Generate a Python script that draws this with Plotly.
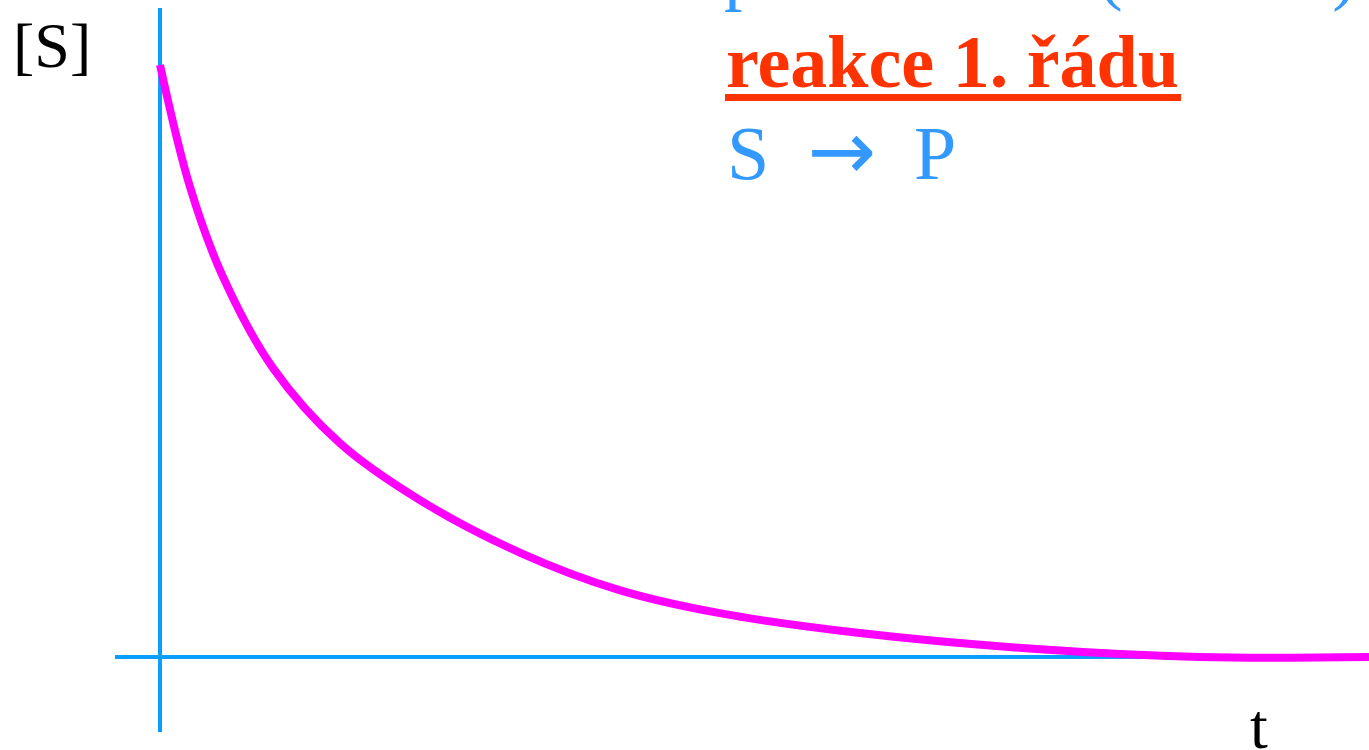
import plotly.graph_objects as go

# first order reaction S -> P, concentration of S
t = [0.0, 0.248, 0.521, 0.935, 1.489, 2.15, 2.98, 3.80, 4.63, 5.77, 7.25, 8.60, 10.0]
s_conc = [1.0, 0.794, 0.642, 0.488, 0.361, 0.265, 0.176, 0.113, 0.074, 0.041,
          0.0135, 0.0, 0.0]

y_label = '[S]'
x_label = 't'
top_line = 'průběh času (obecně)'
title = 'reakce 1. řádu'
reaction = ['S', '→', 'P']

serif = 'Liberation Serif, Times New Roman, serif'
axis_blue = '#0A9EFF'
text_blue = '#3399FF'
red = '#FF3300'

fig = go.Figure()

fig.add_trace(go.Scatter(
    x=t, y=s_conc,
    mode='lines',
    line=dict(color='#FF00FF', width=8, shape='spline', smoothing=1.0),
    showlegend=False,
    hoverinfo='skip',
))

# axes drawn as plain lines, like in the slide
fig.add_shape(type='line', xref='x', yref='y', x0=0, x1=0, y0=-0.1267, y1=1.0963,
              line=dict(color=axis_blue, width=4), layer='below')
fig.add_shape(type='line', xref='x', yref='y', x0=-0.372, x1=10.2, y0=0, y1=0,
              line=dict(color=axis_blue, width=4), layer='below')

# thick underline below the title
fig.add_shape(type='rect', xref='paper', yref='paper',
              x0=0.5296, x1=0.8627, y0=0.8653, y1=0.8747,
              line=dict(width=0), fillcolor=red)

fig.add_annotation(text=y_label, xref='paper', yref='paper', x=0.038, y=0.94,
                   xanchor='center', yanchor='middle', showarrow=False,
                   font=dict(family=serif, size=64, color='black'))
fig.add_annotation(text=x_label, xref='paper', yref='paper', x=0.9197, y=0.032,
                   xanchor='center', yanchor='middle', showarrow=False,
                   font=dict(family=serif, size=64, color='black'))
fig.add_annotation(text=top_line, xref='paper', yref='paper', x=0.5274, y=1.0387,
                   xanchor='left', yanchor='middle', showarrow=False,
                   font=dict(family=serif, size=74, color=text_blue))
fig.add_annotation(text='<b>' + title + '</b>', xref='paper', yref='paper',
                   x=0.5289, y=0.9173, xanchor='left', yanchor='middle',
                   showarrow=False, font=dict(family=serif, size=74, color=red))

arrow = '<span style="font-family:DejaVu Sans;font-size:82px">' + reaction[1] + '</span>'
fig.add_annotation(text=reaction[0] + '\u00a0\u00a0' + arrow + '\u00a0\u00a0' + reaction[2],
                   xref='paper', yref='paper', x=0.5296, y=0.7987,
                   xanchor='left', yanchor='middle', showarrow=False,
                   font=dict(family=serif, size=76, color=text_blue))

fig.update_layout(
    width=1369, height=750,
    margin=dict(l=0, r=0, t=0, b=0),
    paper_bgcolor='white',
    plot_bgcolor='white',
    xaxis=dict(range=[-1.3234, 10], visible=False, fixedrange=True),
    yaxis=dict(range=[-0.1571, 1.1098], visible=False, fixedrange=True),
)

fig.write_html('out.html', config={'displayModeBar': False},
               post_script="document.body.style.margin='0';")
